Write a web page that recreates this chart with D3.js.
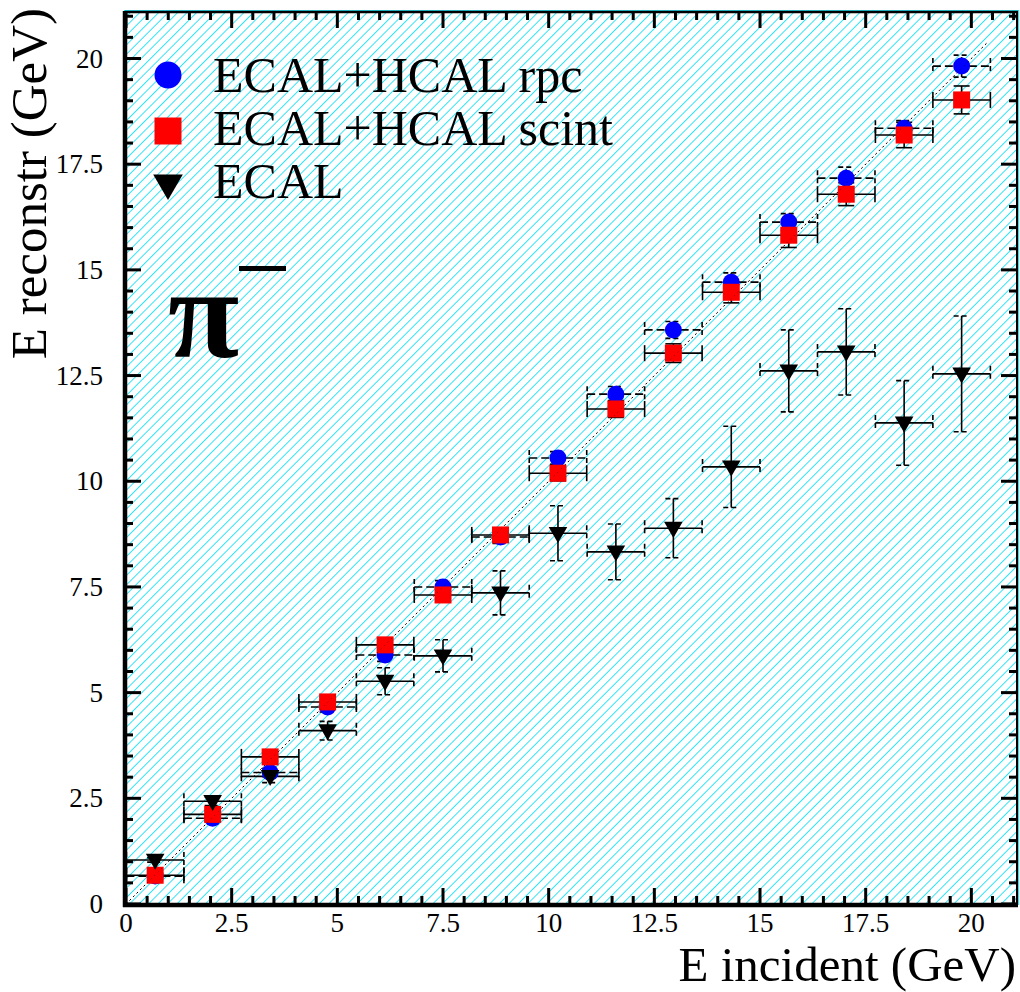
<!DOCTYPE html>
<html><head><meta charset="utf-8">
<script src="https://cdn.jsdelivr.net/npm/d3@7"></script>
<style>html,body{margin:0;padding:0;background:#fff;}svg{display:block;}</style>
</head><body>
<script>
const energies = [0.69, 2.05, 3.41, 4.77, 6.13, 7.5, 8.86, 10.22, 11.59, 12.95, 14.32, 15.68, 17.04, 18.41, 19.77];
const energyErr = [0.68, 0.68, 0.68, 0.68, 0.68, 0.68, 0.68, 0.68, 0.68, 0.68, 0.68, 0.68, 0.68, 0.68, 0.68];
const rpcValues = [0.66, 2.03, 3.11, 4.66, 5.89, 7.5, 8.68, 10.55, 12.06, 13.58, 14.71, 16.13, 17.17, 18.35, 19.82];
const rpcErr = [0.06, 0.08, 0.1, 0.12, 0.15, 0.15, 0.15, 0.15, 0.18, 0.2, 0.22, 0.2, 0.26, 0.18, 0.26];
const scintValues = [0.68, 2.12, 3.48, 4.78, 6.13, 7.31, 8.73, 10.19, 11.71, 13.03, 14.47, 15.82, 16.79, 18.19, 19.02];
const scintErr = [0.06, 0.08, 0.1, 0.12, 0.14, 0.16, 0.16, 0.18, 0.2, 0.22, 0.25, 0.29, 0.27, 0.3, 0.33];
const ecalValues = [1.04, 2.43, 3.02, 4.1, 5.27, 5.87, 7.36, 8.77, 8.33, 8.89, 10.34, 12.61, 13.06, 11.38, 12.54];
const ecalErr = [0.05, 0.1, 0.15, 0.22, 0.32, 0.38, 0.52, 0.65, 0.66, 0.7, 0.96, 0.97, 1.02, 1.0, 1.37];
const tickValues = [0, 2.5, 5, 7.5, 10, 12.5, 15, 17.5, 20];
const tickLabels = ["0", "2.5", "5", "7.5", "10", "12.5", "15", "17.5", "20"];
const legendLabels = ["ECAL+HCAL rpc", "ECAL+HCAL scint", "ECAL"];
const xTitle = "E incident (GeV)";
const yTitle = "E reconstr (GeV)";

const W = 1020, H = 992;
const L = 125, R = 1017, T = 12, B = 904;
const x = d3.scaleLinear().domain([0, 21.08]).range([L + 1, R]);
const y = d3.scaleLinear().domain([0, 21.1]).range([B, T]);
const serif = "'Liberation Serif','Times New Roman',serif";

const svg = d3.select("body").append("svg").attr("width", W).attr("height", H);
const defs = svg.append("defs");
const pat = defs.append("pattern").attr("id", "hatch").attr("patternUnits", "userSpaceOnUse")
  .attr("width", 6.7).attr("height", 6.7).attr("patternTransform", "rotate(45)");
pat.append("rect").attr("x", 0).attr("y", 0).attr("width", 0.75).attr("height", 6.7).attr("fill", "#2ae4f6")
  .attr("shape-rendering", "crispEdges");

// background hatch
svg.append("rect").attr("x", L).attr("y", T).attr("width", R - L).attr("height", B - T).attr("fill", "#fff");
svg.append("rect").attr("x", L).attr("y", T).attr("width", R - L).attr("height", B - T).attr("fill", "url(#hatch)");
// cyan frame
svg.append("rect").attr("x", L - 0.5).attr("y", T - 1.5).attr("width", R - L + 2).attr("height", B - T + 2)
  .attr("fill", "none").attr("stroke", "#2ae4f6").attr("stroke-width", 1);

// diagonal dotted y = x
svg.append("line").attr("x1", x(0)).attr("y1", y(0)).attr("x2", x(20.4)).attr("y2", y(20.4))
  .attr("stroke", "#000").attr("stroke-width", 1).attr("stroke-dasharray", "2,3");

// minor/major ticks
const minor = d3.range(0, 21.01, 0.5);
const g = svg.append("g");
minor.forEach(v => {
  const major = Math.abs(v / 2.5 - Math.round(v / 2.5)) < 1e-6;
  const len = major ? 16 : 8;
  const w = 3;
  if (x(v) <= R) {
    g.append("line").attr("x1", x(v)).attr("x2", x(v)).attr("y1", B).attr("y2", B - len).attr("stroke", "#000").attr("stroke-width", w);
    g.append("line").attr("x1", x(v)).attr("x2", x(v)).attr("y1", T).attr("y2", T + len).attr("stroke", "#000").attr("stroke-width", w);
  }
  if (y(v) >= T) {
    g.append("line").attr("y1", y(v)).attr("y2", y(v)).attr("x1", L).attr("x2", L + len).attr("stroke", "#000").attr("stroke-width", w);
    g.append("line").attr("y1", y(v)).attr("y2", y(v)).attr("x1", R).attr("x2", R - len).attr("stroke", "#000").attr("stroke-width", w);
  }
});
// frame
svg.append("line").attr("x1", L).attr("x2", R + 1).attr("y1", T).attr("y2", T).attr("stroke", "#000").attr("stroke-width", 2.5);
svg.append("line").attr("x1", R).attr("x2", R).attr("y1", T).attr("y2", B).attr("stroke", "#000").attr("stroke-width", 2);
svg.append("line").attr("x1", L - 2).attr("x2", R + 1).attr("y1", B + 1).attr("y2", B + 1).attr("stroke", "#000").attr("stroke-width", 4.5);
svg.append("line").attr("x1", L).attr("x2", L).attr("y1", T - 1).attr("y2", B + 3).attr("stroke", "#000").attr("stroke-width", 4.5);

// tick labels
tickValues.forEach((v, i) => {
  svg.append("text").attr("x", x(v)).attr("y", 932).attr("text-anchor", "middle")
    .attr("font-family", serif).attr("font-size", 27).text(tickLabels[i]);
  svg.append("text").attr("x", 103).attr("y", y(v) + 9).attr("text-anchor", "end")
    .attr("font-family", serif).attr("font-size", 27).text(tickLabels[i]);
});

// axis titles
svg.append("text").attr("x", 1016).attr("y", 981).attr("text-anchor", "end")
  .attr("font-family", serif).attr("font-size", 49).text(xTitle);
svg.append("text").attr("transform", "translate(46,8) rotate(-90)").attr("text-anchor", "end")
  .attr("font-family", serif).attr("font-size", 51).text(yTitle);

// error bars
function errBars(vals, errs, opts) {
  const eg = svg.append("g").attr("stroke", "#000").attr("stroke-width", 1.6).attr("fill", "none");
  vals.forEach((v, i) => {
    const cx = x(energies[i]), cy = y(v);
    const x0 = x(energies[i] - energyErr[i]), x1 = x(energies[i] + energyErr[i]);
    const y0 = y(v - errs[i]), y1 = y(v + errs[i]);
    const d = opts.dash;
    eg.append("line").attr("x1", x0).attr("x2", x1).attr("y1", cy).attr("y2", cy).attr("stroke-dasharray", d);
    eg.append("line").attr("x1", x0).attr("x2", x0).attr("y1", cy - 8).attr("y2", cy + 8).attr("stroke-dasharray", opts.capDash);
    eg.append("line").attr("x1", x1).attr("x2", x1).attr("y1", cy - 8).attr("y2", cy + 8).attr("stroke-dasharray", opts.capDash);
    eg.append("line").attr("x1", cx).attr("x2", cx).attr("y1", y0).attr("y2", y1).attr("stroke-dasharray", d);
    eg.append("line").attr("x1", cx - 8).attr("x2", cx + 8).attr("y1", y0).attr("y2", y0).attr("stroke-dasharray", opts.capDash);
    eg.append("line").attr("x1", cx - 8).attr("x2", cx + 8).attr("y1", y1).attr("y2", y1).attr("stroke-dasharray", opts.capDash);
  });
}
errBars(rpcValues, rpcErr, {dash: "8,4", capDash: "5,3"});
errBars(scintValues, scintErr, {dash: null, capDash: null});
errBars(ecalValues, ecalErr, {dash: null, capDash: "5,3"});

const circle = d3.symbol().type(d3.symbolCircle);
const square = d3.symbol().type(d3.symbolSquare);
const tri = d3.symbol().type(d3.symbolTriangle);
// markers
svg.append("g").selectAll("path").data(rpcValues).join("path")
  .attr("transform", (d, i) => `translate(${x(energies[i])},${y(d)})`)
  .attr("d", circle.size(Math.PI * 8.5 * 8.5)).attr("fill", "#0000ff");
svg.append("g").selectAll("path").data(scintValues).join("path")
  .attr("transform", (d, i) => `translate(${x(energies[i])},${y(d)})`)
  .attr("d", square.size(17 * 17)).attr("fill", "#ff0000");
svg.append("g").selectAll("path").data(ecalValues).join("path")
  .attr("transform", (d, i) => `translate(${x(energies[i])},${y(d) - 1}) rotate(180)`)
  .attr("d", tri.size(150)).attr("fill", "#000");

// dotted line visible over markers (as in reference)
svg.append("line").attr("x1", x(0)).attr("y1", y(0)).attr("x2", x(20.4)).attr("y2", y(20.4))
  .attr("stroke", "#000").attr("stroke-width", 0.8).attr("stroke-dasharray", "1,4").attr("opacity", 0.6);

// legend
const lg = svg.append("g");
lg.append("path").attr("transform", "translate(168,75)").attr("d", circle.size(Math.PI * 13.5 * 13.5)).attr("fill", "#0000ff");
lg.append("path").attr("transform", "translate(168,131)").attr("d", square.size(27 * 27)).attr("fill", "#ff0000");
lg.append("path").attr("transform", "translate(168,183) rotate(180)").attr("d", tri.size(380)).attr("fill", "#000");
[92, 145, 198].forEach((by, i) => {
  lg.append("text").attr("x", 213).attr("y", by).attr("font-family", serif).attr("font-size", 50).text(legendLabels[i]);
});

// pi minus label
svg.append("text").attr("x", 168).attr("y", 357).attr("font-family", serif).attr("font-weight", "bold")
  .attr("font-size", 130).text("π");
svg.append("rect").attr("x", 239).attr("y", 266).attr("width", 47).attr("height", 5).attr("fill", "#000");
</script>
</body></html>
